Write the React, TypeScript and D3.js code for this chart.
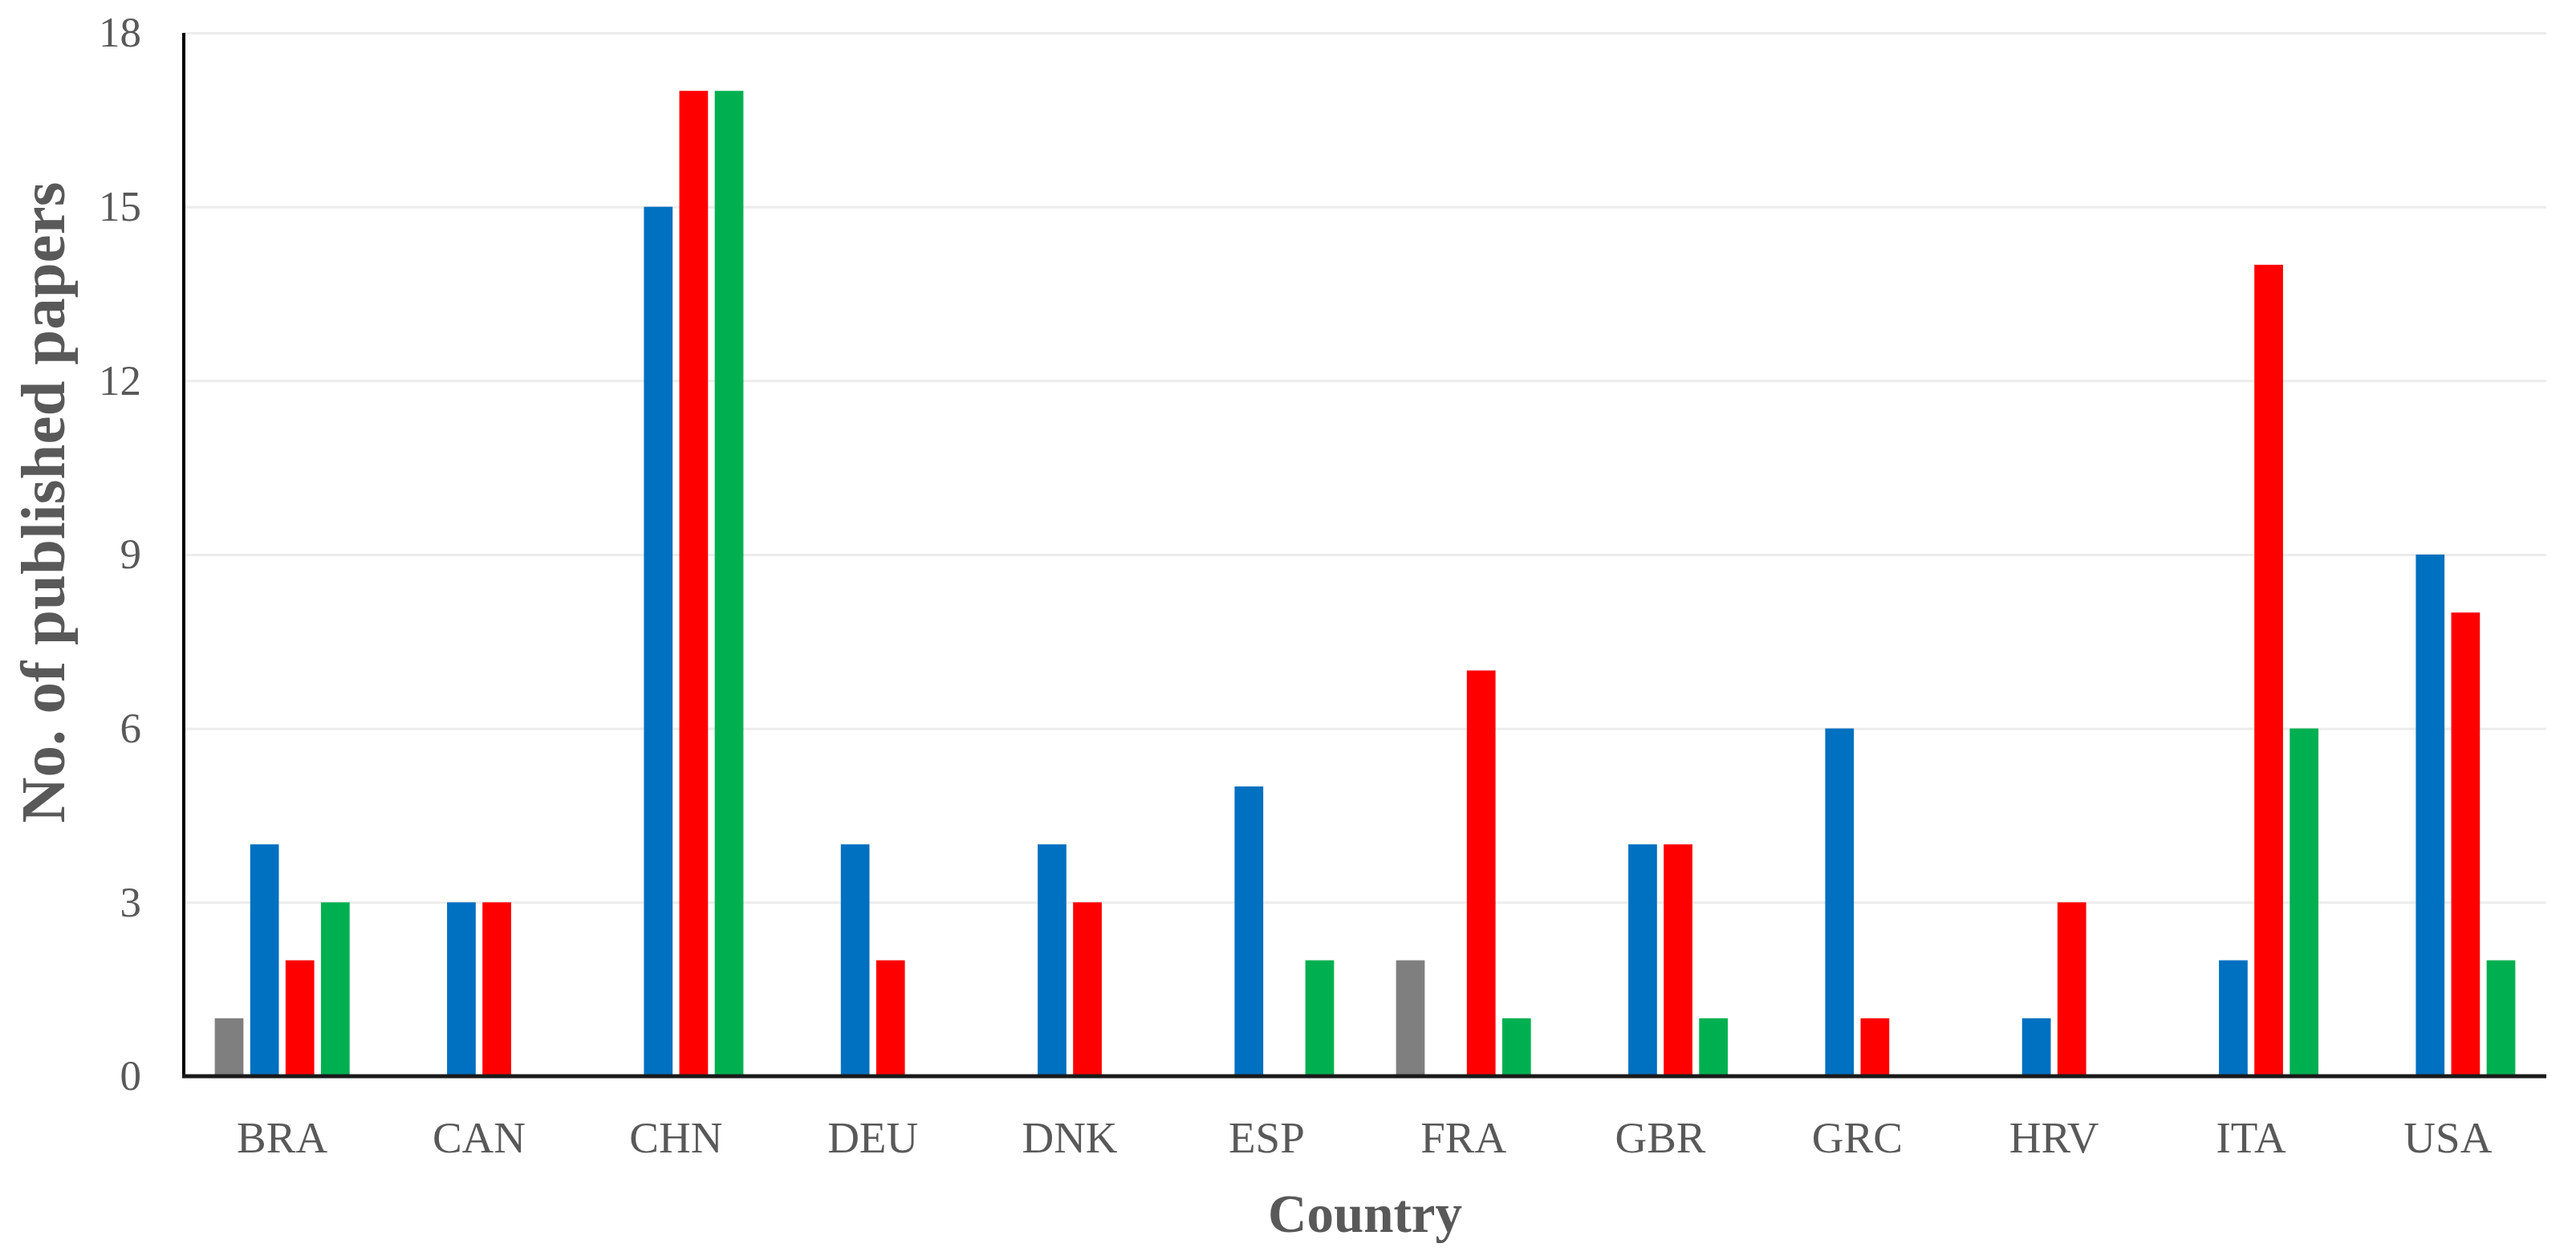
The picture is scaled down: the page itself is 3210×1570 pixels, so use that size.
import React, { useEffect, useRef } from 'react';
import * as d3 from 'd3';

// countries on the x axis
const countries = ['BRA', 'CAN', 'CHN', 'DEU', 'DNK', 'ESP', 'FRA', 'GBR', 'GRC', 'HRV', 'ITA', 'USA'];

// four series per country (no legend in the figure)
const seriesNames = ['s1', 's2', 's3', 's4'];
const series1 = [1, 0, 0, 0, 0, 0, 2, 0, 0, 0, 0, 0];
const series2 = [4, 3, 15, 4, 4, 5, 0, 4, 6, 1, 2, 9];
const series3 = [2, 3, 17, 2, 3, 0, 7, 4, 1, 3, 14, 8];
const series4 = [3, 0, 17, 0, 0, 2, 1, 1, 0, 0, 6, 2];
const seriesColors = ['#7f7f7f', '#0070c0', '#ff0000', '#00b050'];

const yTicks = [0, 3, 6, 9, 12, 15, 18];

const App = () => {
  const svgRef = useRef(null);

  useEffect(() => {
    document.body.style.margin = '0';

    const W = 3210;
    const H = 1570;
    const margin = { top: 41, right: 37, bottom: 229, left: 229 };
    const width = W - margin.left - margin.right;
    const height = H - margin.top - margin.bottom;

    const svg = d3.select(svgRef.current)
      .attr('width', W)
      .attr('height', H);
    svg.selectAll('*').remove();

    svg.append('rect').attr('width', W).attr('height', H).attr('fill', '#fff');

    const g = svg.append('g')
      .attr('transform', `translate(${margin.left},${margin.top})`);

    const x0 = d3.scaleBand()
      .domain(countries)
      .range([0, width])
      .paddingInner(0.315)
      .paddingOuter(0.1575);

    const x1 = d3.scaleBand()
      .domain(seriesNames)
      .range([0, x0.bandwidth()])
      .paddingInner(0.19);

    const y = d3.scaleLinear()
      .domain([0, 18])
      .range([height, 0]);

    const font = '"Liberation Serif", "DejaVu Serif", serif';

    // gridlines
    g.append('g')
      .call(d3.axisLeft(y).tickValues(yTicks.slice(1)).tickSize(-width).tickFormat(() => ''))
      .call(s => s.select('.domain').remove())
      .call(s => s.selectAll('line').attr('stroke', '#ececec').attr('stroke-width', 3));

    const all = [series1, series2, series3, series4];
    const rows = countries.map((c, i) => ({
      country: c,
      values: seriesNames.map((k, j) => ({ key: k, value: all[j][i] })),
    }));

    const color = d3.scaleOrdinal().domain(seriesNames).range(seriesColors);

    g.append('g')
      .selectAll('g')
      .data(rows)
      .enter()
      .append('g')
      .attr('transform', d => `translate(${x0(d.country)},0)`)
      .selectAll('rect')
      .data(d => d.values.filter(v => v.value > 0))
      .enter()
      .append('rect')
      .attr('x', d => x1(d.key))
      .attr('y', d => y(d.value))
      .attr('width', x1.bandwidth())
      .attr('height', d => y(0) - y(d.value))
      .attr('fill', d => color(d.key));

    // y axis
    const yAxis = g.append('g')
      .call(d3.axisLeft(y).tickValues(yTicks).tickSize(0).tickPadding(53));
    yAxis.select('.domain').remove();
    yAxis.selectAll('text')
      .attr('font-family', font)
      .attr('font-size', 53)
      .attr('fill', '#595959');

    g.append('line')
      .attr('x1', 0).attr('x2', 0)
      .attr('y1', 0).attr('y2', height)
      .attr('stroke', '#000')
      .attr('stroke-width', 4);

    // x axis
    const xAxis = g.append('g')
      .attr('transform', `translate(0,${height})`)
      .call(d3.axisBottom(x0).tickSize(0).tickPadding(56));
    xAxis.select('.domain').remove();
    xAxis.selectAll('text')
      .attr('font-family', font)
      .attr('font-size', 55)
      .attr('fill', '#595959');

    g.append('line')
      .attr('x1', -2).attr('x2', width)
      .attr('y1', height).attr('y2', height)
      .attr('stroke', '#1a1a1a')
      .attr('stroke-width', 5);

    // axis titles
    svg.append('text')
      .attr('x', margin.left + width / 2)
      .attr('y', 1535)
      .attr('text-anchor', 'middle')
      .attr('font-family', font)
      .attr('font-weight', 'bold')
      .attr('font-size', 67)
      .attr('fill', '#595959')
      .text('Country');

    svg.append('text')
      .attr('transform', `translate(80,${margin.top + height / 2 - 65}) rotate(-90)`)
      .attr('text-anchor', 'middle')
      .attr('font-family', font)
      .attr('font-weight', 'bold')
      .attr('font-size', 79)
      .attr('fill', '#595959')
      .text('No. of published papers');
  }, []);

  return (
    <div>
      <svg ref={svgRef} style={{ display: 'block' }}></svg>
    </div>
  );
};

export default App;
